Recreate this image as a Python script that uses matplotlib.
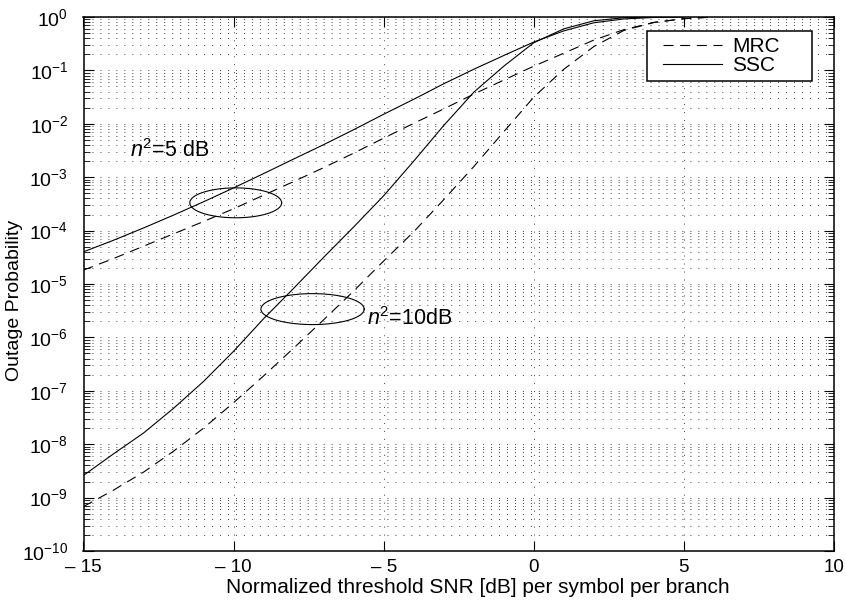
import numpy as np
import matplotlib
matplotlib.use("Agg")
import matplotlib.pyplot as plt
from matplotlib.lines import Line2D
from matplotlib.legend_handler import HandlerLine2D

# threshold SNR [dB] per symbol per branch
snr_ssc_5 = [-15, -14, -13, -12, -11, -10, -9, -8, -7, -6, -5, -4, -3, -2, -1, 0, 1, 2, 3, 4, 5]
ssc_5 = [4.0e-5, 6.6e-5, 1.12e-4, 1.95e-4, 3.47e-4, 6.3e-4, 1.17e-3, 2.19e-3, 4.07e-3, 7.76e-3,
         1.51e-2, 2.88e-2, 5.62e-2, 0.105, 0.19, 0.34, 0.55, 0.78, 0.92, 0.98, 1.0]

snr_ssc_10 = [-15, -14, -13, -12, -11, -10, -9, -8, -7, -6, -5, -4, -3, -2, -1, 0, 1, 2, 3, 4]
ssc_10 = [2.6e-9, 6.6e-9, 1.62e-8, 4.7e-8, 1.5e-7, 5.5e-7, 2.24e-6, 8.3e-6, 3.16e-5, 1.17e-4,
          4.5e-4, 2.0e-3, 9.3e-3, 3.9e-2, 0.12, 0.33, 0.60, 0.85, 0.97, 1.0]

snr_mrc = [-15, -14, -13, -12, -11, -10, -9, -8, -7, -6, -5, -4, -3, -2, -1, 0, 1, 2, 3, 4, 5, 6]
mrc_5 = [1.82e-5, 3.0e-5, 5.1e-5, 8.7e-5, 1.48e-4, 2.57e-4, 4.6e-4, 8.3e-4, 1.51e-3, 2.82e-3,
         5.4e-3, 1.02e-2, 1.9e-2, 3.6e-2, 6.6e-2, 0.12, 0.21, 0.37, 0.58, 0.79, 0.93, 1.0]
mrc_10 = [6.8e-10, 1.38e-9, 3.0e-9, 7.4e-9, 2.0e-8, 6.0e-8, 1.9e-7, 6.3e-7, 2.14e-6, 7.4e-6,
          2.7e-5, 9.5e-5, 3.8e-4, 1.58e-3, 7.1e-3, 3.16e-2, 0.105, 0.28, 0.56, 0.79, 0.93, 1.0]

# ellipse markers: centre dB, centre log10(P), half width dB, half height decades
ell_5 = (-9.93, -3.48, 1.53, 0.28)
ell_10 = (-7.37, -5.47, 1.72, 0.29)

plt.rcParams['font.family'] = ['Liberation Sans', 'DejaVu Sans']
plt.rcParams['mathtext.fontset'] = 'custom'
plt.rcParams['mathtext.rm'] = 'Liberation Sans'
plt.rcParams['mathtext.it'] = 'Liberation Sans:italic'
plt.rcParams['font.size'] = 13.5

fig = plt.figure(figsize=(8.46, 6.04), dpi=100)
ax = fig.add_axes([83.5 / 846, 53 / 604, 750.5 / 846, 534 / 604])

dash = (0, (9, 6))
ax.plot(snr_mrc, mrc_5, color='k', lw=0.8, ls=dash, label='MRC')
ax.plot(snr_ssc_5, ssc_5, color='k', lw=0.8, label='SSC')
ax.plot(snr_mrc, mrc_10, color='k', lw=0.8, ls=dash)
ax.plot(snr_ssc_10, ssc_10, color='k', lw=0.8)

t = np.linspace(0, 2 * np.pi, 200)
for cx, cy, a, b in (ell_5, ell_10):
    ax.plot(cx + a * np.cos(t), 10 ** (cy + b * np.sin(t)), color='k', lw=0.8)

ax.text(-13.45, 10 ** -2.5, r'$n^2$=5 dB', fontsize=15.5, va='center')
ax.text(-5.55, 10 ** -5.64, r'$n^2$=10dB', fontsize=15.5, va='center')

ax.set_yscale('log')
ax.set_xlim(-15, 10)
ax.set_ylim(1e-10, 1)
ax.set_xticks([-15, -10, -5, 0, 5, 10])
ax.set_xticklabels(['\u2013 15', '\u2013 10', '\u2013 5', '0', '5', '10'])
ax.set_yticks([10.0 ** k for k in range(-10, 1)])
ax.yaxis.set_minor_locator(matplotlib.ticker.LogLocator(base=10, subs=np.arange(2, 10), numticks=20))
ax.yaxis.set_minor_formatter(matplotlib.ticker.NullFormatter())

ax.tick_params(which='both', direction='in', top=True, right=True)
ax.tick_params(which='major', length=7, width=0.8, pad=6)
ax.tick_params(which='minor', length=4, width=0.6)
ax.tick_params(axis='y', which='major', pad=11, labelsize=14)

grid_style = dict(color='0.25', lw=0.7, ls=(0, (1, 7.2)))
ax.grid(True, which='major', axis='x', **grid_style)
ax.grid(True, which='both', axis='y', **grid_style)
for s in ax.spines.values():
    s.set_linewidth(1.1)

ax.set_xlabel('Normalized threshold SNR [dB] per symbol per branch', fontsize=15, labelpad=1)
ax.xaxis.set_label_coords(0.526, -0.05)
ax.xaxis.label.set_va('top')
ax.set_ylabel('Outage Probability', fontsize=14)
ax.yaxis.set_label_coords(-0.08, 0.47)

leg = ax.legend(loc='upper right', bbox_to_anchor=(0.751, 0.90, 0.220, 0.074), mode='expand',
                borderaxespad=0, fancybox=False, framealpha=1, edgecolor='k', handlelength=3.3,
                handletextpad=0.48, labelspacing=0.0, borderpad=0.3, fontsize=15,
                handler_map={Line2D: HandlerLine2D(xpad=0.47)})
leg.get_frame().set_linewidth(1.1)

fig.savefig('out.png', dpi=100)
